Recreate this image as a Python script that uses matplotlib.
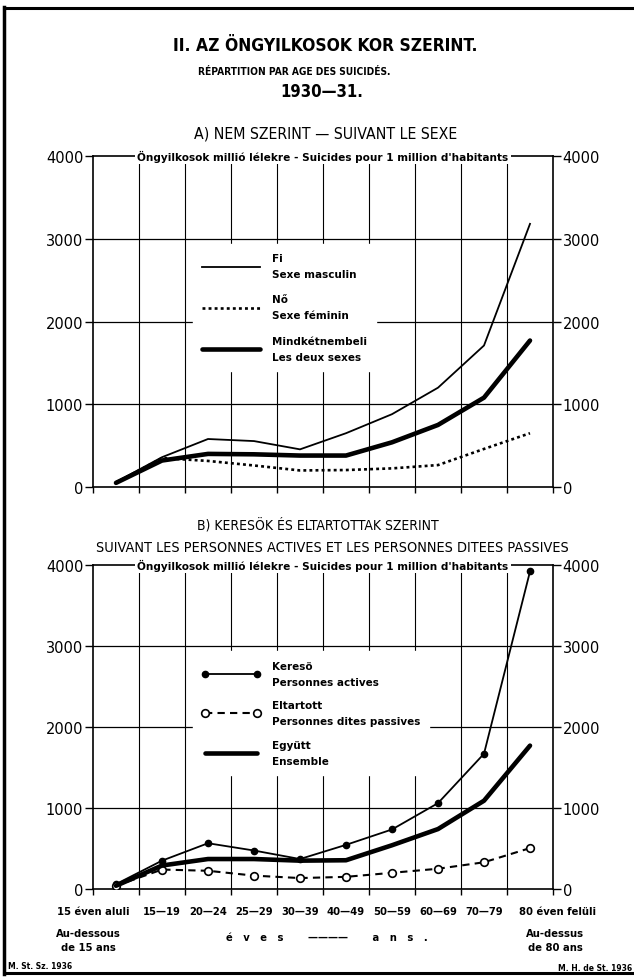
import numpy as np
import matplotlib
matplotlib.use('Agg')
import matplotlib.pyplot as plt
from matplotlib.lines import Line2D

# korcsoportok / groupes d'age
korcsoportok = ["15 éven aluli", "15—19", "20—24", "25—29", "30—39",
                "40—49", "50—59", "60—69", "70—79", "80 éven felüli"]

# A) nem szerint (millió lélekre)
ferfi = [60, 360, 580, 555, 455, 650, 880, 1200, 1710, 3180]
no = [50, 350, 315, 260, 200, 205, 225, 265, 460, 650]
mindketto = [50, 320, 400, 395, 380, 380, 540, 750, 1080, 1770]

# B) keresok es eltartottak
kereso = [60, 350, 565, 475, 370, 545, 735, 1060, 1670, 3920]
eltartott = [40, 240, 225, 165, 135, 150, 200, 250, 330, 505]
egyutt = [40, 290, 370, 370, 350, 355, 540, 740, 1090, 1770]

plain = ['DejaVu Sans']
narrow = dict(family=['DejaVu Sans'], fontstretch='condensed')

W, H = 634, 978
fig = plt.figure(figsize=(W / 100, H / 100), dpi=100)


def fy(y):
    return 1 - y / H


def px_ax(left, top, right, bottom):
    return fig.add_axes([left / W, 1 - bottom / H, (right - left) / W, (bottom - top) / H])


def alap(ax):
    ax.set_xlim(-0.5, 9.5)
    ax.set_ylim(0, 4000)
    ax.set_yticks([0, 1000, 2000, 3000, 4000])
    ax.tick_params(axis='y', direction='out', length=6, width=1, left=True, right=True,
                   labelleft=True, labelright=True, labelsize=10.5, pad=1)
    for t in ax.get_yticklabels():
        t.set_family(plain)
    ax.set_xticks(np.arange(-0.5, 10, 1))
    ax.set_xticklabels([])
    ax.tick_params(axis='x', direction='out', length=4, width=1)
    for y in [1000, 2000, 3000]:
        ax.axhline(y, color='k', lw=0.9, zorder=1)
    for x in np.arange(0.5, 9.5, 1):
        ax.axvline(x, color='k', lw=0.8, zorder=1)
    for s in ax.spines.values():
        s.set_linewidth(1.2)
    ax.text(0.5, 1.0, "Öngyilkosok millió lélekre - Suicides pour 1 million d'habitants",
            transform=ax.transAxes, ha='center', va='center', fontsize=7.6,
            fontweight='bold', family=plain, zorder=6,
            bbox=dict(facecolor='white', edgecolor='none', pad=1.5))


x = np.arange(len(korcsoportok))

# ---- A) panel
ax1 = px_ax(93, 157, 553, 488)
alap(ax1)
l1, = ax1.plot(x, ferfi, color='k', lw=1.3, zorder=3)
l2, = ax1.plot(x, no, color='k', lw=1.9, dashes=(1.1, 1.2), zorder=3)
l3, = ax1.plot(x, mindketto, color='k', lw=3.3, solid_capstyle='round', zorder=3)
leg1 = ax1.legend([l1, l2, l3], ["Fi\nSexe masculin", "Nő\nSexe féminin",
                                  "Mindkétnembeli\nLes deux sexes"],
                  loc='upper left', bbox_to_anchor=(0.205, 0.75), frameon=True,
                  fancybox=False, edgecolor='white', facecolor='white', framealpha=1,
                  handlelength=5.6, handletextpad=1.1, labelspacing=1.45, borderpad=0.9,
                  prop={'family': plain, 'weight': 'bold', 'size': 7.5})
for t in leg1.get_texts():
    t.set_linespacing(1.75)

# ---- B) panel
ax2 = px_ax(93, 566, 553, 890)
alap(ax2)
k1, = ax2.plot(x, kereso, color='k', lw=1.3, marker='o', ms=4.5, zorder=3)
k2, = ax2.plot(x, eltartott, color='k', lw=1.5, dashes=(3.5, 2.5), marker='o', ms=5.5,
               mfc='white', mew=1.2, zorder=3)
k3, = ax2.plot(x, egyutt, color='k', lw=3.3, solid_capstyle='round', zorder=3)
leg2 = ax2.legend([k1, k2, k3], ["Keresö\nPersonnes actives",
                                  "Eltartott\nPersonnes dites passives",
                                  "Együtt\nEnsemble"],
                  loc='upper left', bbox_to_anchor=(0.205, 0.75), frameon=True,
                  fancybox=False, edgecolor='white', facecolor='white', framealpha=1,
                  numpoints=2, handlelength=5.6, handletextpad=1.1, labelspacing=1.3,
                  borderpad=0.9, prop={'family': plain, 'weight': 'bold', 'size': 7.5})
for t in leg2.get_texts():
    t.set_linespacing(1.75)

# x feliratok
tr = ax2.get_xaxis_transform()
lab_y = -(912 - 890) / 324
for i in range(1, 9):
    ax2.text(x[i], lab_y, korcsoportok[i], transform=tr, ha='center', va='center',
             fontsize=8, fontweight='bold', **narrow)
ax2.text(-0.5, lab_y, korcsoportok[0], transform=tr, ha='center', va='center',
         fontsize=8, fontweight='bold', **narrow)
ax2.text(9.6, lab_y, korcsoportok[-1], transform=tr, ha='center', va='center',
         fontsize=8, fontweight='bold', **narrow)
ax2.text(-0.6, -(929 - 890) / 324, "Au-dessous\nde 15 ans", transform=tr, ha='center',
         va='top', fontsize=8, fontweight='bold', linespacing=1.5, **narrow)
ax2.text(9.55, -(929 - 890) / 324, "Au-dessus\nde 80 ans", transform=tr, ha='center',
         va='top', fontsize=8, fontweight='bold', linespacing=1.5, **narrow)
fig.text(327 / W, fy(938), "é   v   e   s       ————       a   n   s   .",
         ha='center', va='center', fontsize=8, fontweight='bold', **narrow)

# cimek
fig.text(325 / W, fy(46), "II. AZ ÖNGYILKOSOK KOR SZERINT.", ha='center', va='center',
         fontsize=12.5, fontweight='bold', **narrow)
fig.text(294 / W, fy(72), "RÉPARTITION PAR AGE DES SUICIDÉS.", ha='center', va='center',
         fontsize=7.3, fontweight='bold', **narrow)
fig.text(322 / W, fy(92), "1930—31.", ha='center', va='center',
         fontsize=12, fontweight='bold', **narrow)
fig.text(326 / W, fy(134), "A) NEM SZERINT — SUIVANT LE SEXE", ha='center', va='center',
         fontsize=11.3, **narrow)
fig.text(318 / W, fy(525), "B) KERESÖK ÉS ELTARTOTTAK SZERINT", ha='center', va='center',
         fontsize=10, **narrow)
fig.text(332 / W, fy(548), "SUIVANT LES PERSONNES ACTIVES ET LES PERSONNES DITEES PASSIVES",
         ha='center', va='center', fontsize=10.4, **narrow)
fig.text(8 / W, fy(967), "M. St. Sz. 1936", ha='left', va='center', fontsize=5.5,
         fontweight='bold', family=plain)
fig.text(632 / W, fy(969), "M. H. de St. 1936", ha='right', va='center', fontsize=5.5,
         fontweight='bold', family=plain)

# keret
fig.add_artist(Line2D([4 / W, 4 / W], [fy(8), fy(975)], color='k', lw=2.5))
fig.add_artist(Line2D([4 / W, 1], [fy(9), fy(9)], color='k', lw=2.2))
fig.add_artist(Line2D([4 / W, 1], [fy(974), fy(974)], color='k', lw=2.2))

fig.savefig('out.png', dpi=100, facecolor='white')
